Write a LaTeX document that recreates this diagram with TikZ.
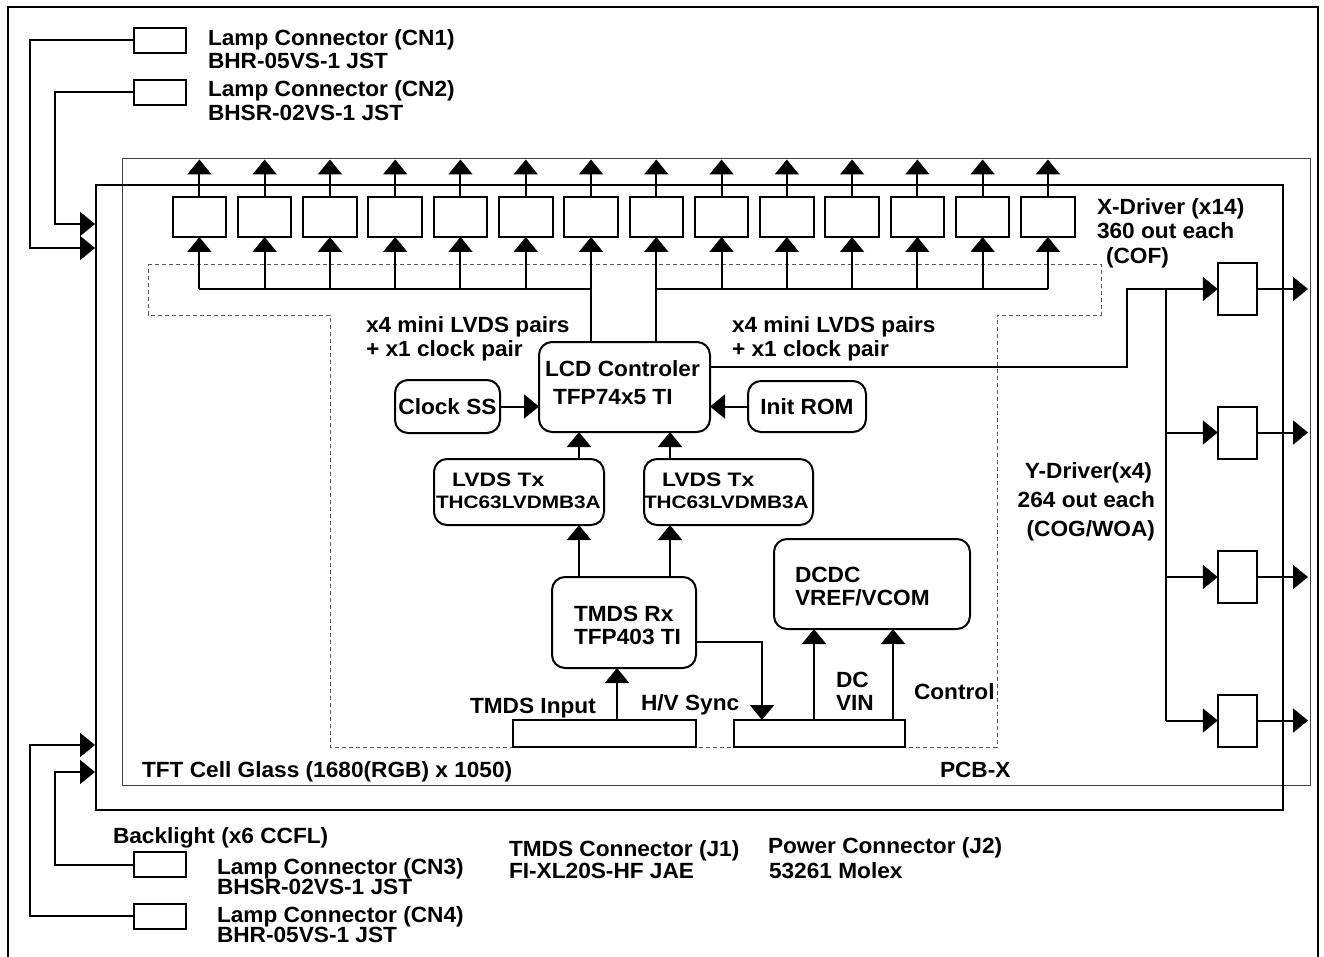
\documentclass[tikz,border=0pt]{standalone}
\usepackage{fontspec}
\setmainfont{Liberation Sans}[FakeStretch=1.03]
\usetikzlibrary{arrows.meta}
\newcommand\lab[4][base west]{\node[lbl,anchor=#1] (#2) at (#3) {#4};}
\begin{document}
\begin{tikzpicture}[x=1pt,y=-1pt,
  font=\fontsize{22}{24}\selectfont\bfseries,
  ln/.style={line width=2pt},
  arr/.style={line width=2pt,-{Triangle[length=15pt,width=24pt]}},
  box/.style={draw,line width=2pt,fill=white,inner sep=0pt,outer sep=0pt},
  rbox/.style={box,rounded corners=13pt},
  lbl/.style={inner sep=0pt,outer sep=0pt}]
\useasboundingbox (0,0) rectangle (1324,957);
\draw[line width=2pt] (8,7) rectangle (1318,962);

% frames
\node[draw=black!75,line width=1pt,minimum width=1188pt,minimum height=626pt,inner sep=0pt] (glass) at (716,472) {};
\node[draw,line width=2pt,minimum width=1187pt,minimum height=625pt,inner sep=0pt] (panel) at (689.5,497.5) {};
\draw[black!65,line width=0.8pt,dash pattern=on 4pt off 3pt]
  (148,264) -- (1101,264) -- (1101,315) -- (997,315) -- (997,747) -- (330,747) -- (330,315) -- (148,315) -- cycle;

% X drivers
\foreach \i in {0,...,13}{
  \node[box,minimum width=53.5pt,minimum height=40pt] (xd\i) at ({199.4+65.27*\i},217) {};
}
\coordinate (xtop) at (0,159.5);
\coordinate (xbus) at (0,289);
\foreach \i in {0,...,13}{ \draw[arr] (xd\i.north) -- (xd\i.north |- xtop); }
\foreach \i in {0,1,2,3,4,5,8,9,10,11,12,13}{ \draw[arr] (xd\i.south |- xbus) -- (xd\i.south); }
\draw[ln] (xd0.south |- xbus) -- (xd6.south |- xbus);
\draw[ln] (xd7.south |- xbus) -- (xd13.south |- xbus);

% central blocks
\node[rbox,minimum width=171pt,minimum height=90pt] (lcd) at (624.5,387) {};
\draw[arr] (xd6.south |- lcd.north) -- (xd6.south);
\draw[arr] (xd7.south |- lcd.north) -- (xd7.south);
\node[rbox,minimum width=105pt,minimum height=53pt] (clk) at (447.5,406.5) {Clock SS};
\node[rbox,minimum width=118pt,minimum height=51pt] (rom) at (807,406.5) {Init ROM};
\draw[arr] (clk.east) -- (clk.east -| lcd.west);
\draw[arr] (rom.west) -- (rom.west -| lcd.east);

\node[rbox,minimum width=170pt,minimum height=66pt] (lv1) at (519,492) {};
\node[rbox,minimum width=169pt,minimum height=66pt] (lv2) at (728.5,492) {};
\node[rbox,minimum width=144pt,minimum height=91pt] (rx) at (624,622.5) {};
\node[rbox,minimum width=196pt,minimum height=90pt] (dc) at (872,584) {};
\node[box,minimum width=183pt,minimum height=27pt] (j1) at (604.5,733.5) {};
\node[box,minimum width=171pt,minimum height=27pt] (j2) at (819.5,733.5) {};

\coordinate (ca) at (579,0);
\coordinate (cb) at (670,0);
\draw[arr] (lv1.north -| ca) -- (lcd.south -| ca);
\draw[arr] (lv2.north -| cb) -- (lcd.south -| cb);
\draw[arr] (rx.north -| ca) -- (lv1.south -| ca);
\draw[arr] (rx.north -| cb) -- (lv2.south -| cb);
\coordinate (tin) at (617,0);
\draw[arr] (j1.north -| tin) -- (rx.south -| tin);
\coordinate (hv) at (762,642);
\draw[arr] (rx.east |- hv) -- (hv) -- (hv |- j2.north);
\coordinate (dca) at (814,0);
\coordinate (dcb) at (893,0);
\draw[arr] (j2.north -| dca) -- (dc.south -| dca);
\draw[arr] (j2.north -| dcb) -- (dc.south -| dcb);

% Y drivers
\foreach \i/\yy in {0/289,1/432.5,2/577,3/720.5}{
  \node[box,minimum width=39.5pt,minimum height=52pt] (yd\i) at (1237.5,\yy) {};
}
\coordinate (jog) at (1127,367);
\draw[arr] (lcd.east |- jog) -- (jog) |- (yd0.west);
\coordinate (ybx) at (1166,0);
\draw[ln] (yd0.west -| ybx) -- (yd3.west -| ybx);
\foreach \i in {1,2,3}{ \draw[arr] (yd\i.west -| ybx) -- (yd\i.west); }
\coordinate (yox) at (1308,0);
\foreach \i in {0,...,3}{ \draw[arr] (yd\i.east) -- (yd\i.east -| yox); }

% lamp connectors
\node[box,minimum width=52pt,minimum height=25pt] (cn1) at (160,40.5) {};
\node[box,minimum width=52pt,minimum height=25pt] (cn2) at (160,92.5) {};
\node[box,minimum width=52pt,minimum height=25pt] (cn3) at (160,864.5) {};
\node[box,minimum width=52pt,minimum height=25pt] (cn4) at (160,916) {};
\coordinate (l1) at (30,248);
\coordinate (l2) at (55,224);
\coordinate (l3) at (55,772);
\coordinate (l4) at (30,745);
\draw[arr] (cn1.west) -| (l1) -- (l1 -| panel.west);
\draw[arr] (cn2.west) -| (l2) -- (l2 -| panel.west);
\draw[arr] (cn3.west) -| (l3) -- (l3 -| panel.west);
\draw[arr] (cn4.west) -| (l4) -- (l4 -| panel.west);

% labels
\lab{t1}{208,45.5}{Lamp Connector (CN1)}
\lab{t2}{208,69}{BHR-05VS-1 JST}
\lab{t3}{208,96.5}{Lamp Connector (CN2)}
\lab{t4}{208,120.5}{BHSR-02VS-1 JST}
\lab{t5}{1097,215}{X-Driver (x14)}
\lab{t6}{1097,239}{360 out each}
\lab{t7}{1106,264}{(COF)}
\lab{t8}{366,333}{x4 mini LVDS pairs}
\lab{t9}{366,356}{+ x1 clock pair}
\lab{t10}{732,333}{x4 mini LVDS pairs}
\lab{t11}{732,356}{+ x1 clock pair}
\lab{t12}{545,376}{LCD Controler}
\lab{t13}{553,404}{TFP74x5 TI}
\lab{t14}{452,486}{\fontsize{19.5}{20}\selectfont\scalebox{1.14}[1]{LVDS Tx}}
\lab{t15}{436,508}{\fontsize{18}{20}\selectfont\scalebox{1.12}[1]{THC63LVDMB3A}}
\lab{t16}{662,486}{\fontsize{19.5}{20}\selectfont\scalebox{1.14}[1]{LVDS Tx}}
\lab{t17}{644,508}{\fontsize{18}{20}\selectfont\scalebox{1.12}[1]{THC63LVDMB3A}}
\lab[base east]{t18}{1152,478}{Y-Driver(x4)}
\lab[base east]{t19}{1155,507}{264 out each}
\lab[base east]{t20}{1155,536}{(COG/WOA)}
\lab{t21}{574,621}{TMDS Rx}
\lab{t22}{574,644}{TFP403 TI}
\lab{t23}{795,582}{DCDC}
\lab{t24}{795,605}{VREF/VCOM}
\lab{t25}{470,713}{TMDS Input}
\lab{t26}{641,710}{H/V Sync}
\lab{t27}{836,687}{DC}
\lab{t28}{836,710}{VIN}
\lab{t29}{914,699}{Control}
\lab{t30}{142,777}{TFT Cell Glass (1680(RGB) x 1050)}
\lab{t31}{940,777}{PCB-X}
\lab{t32}{113,843}{Backlight (x6 CCFL)}
\lab{t33}{217,874}{Lamp Connector (CN3)}
\lab{t34}{217,894}{BHSR-02VS-1 JST}
\lab{t35}{217,922}{Lamp Connector (CN4)}
\lab{t36}{217,942}{BHR-05VS-1 JST}
\lab{t37}{509,856}{TMDS Connector (J1)}
\lab{t38}{509,878}{FI-XL20S-HF JAE}
\lab{t39}{768,853}{Power Connector (J2)}
\lab{t40}{769,878}{53261 Molex}
\end{tikzpicture}
\end{document}
